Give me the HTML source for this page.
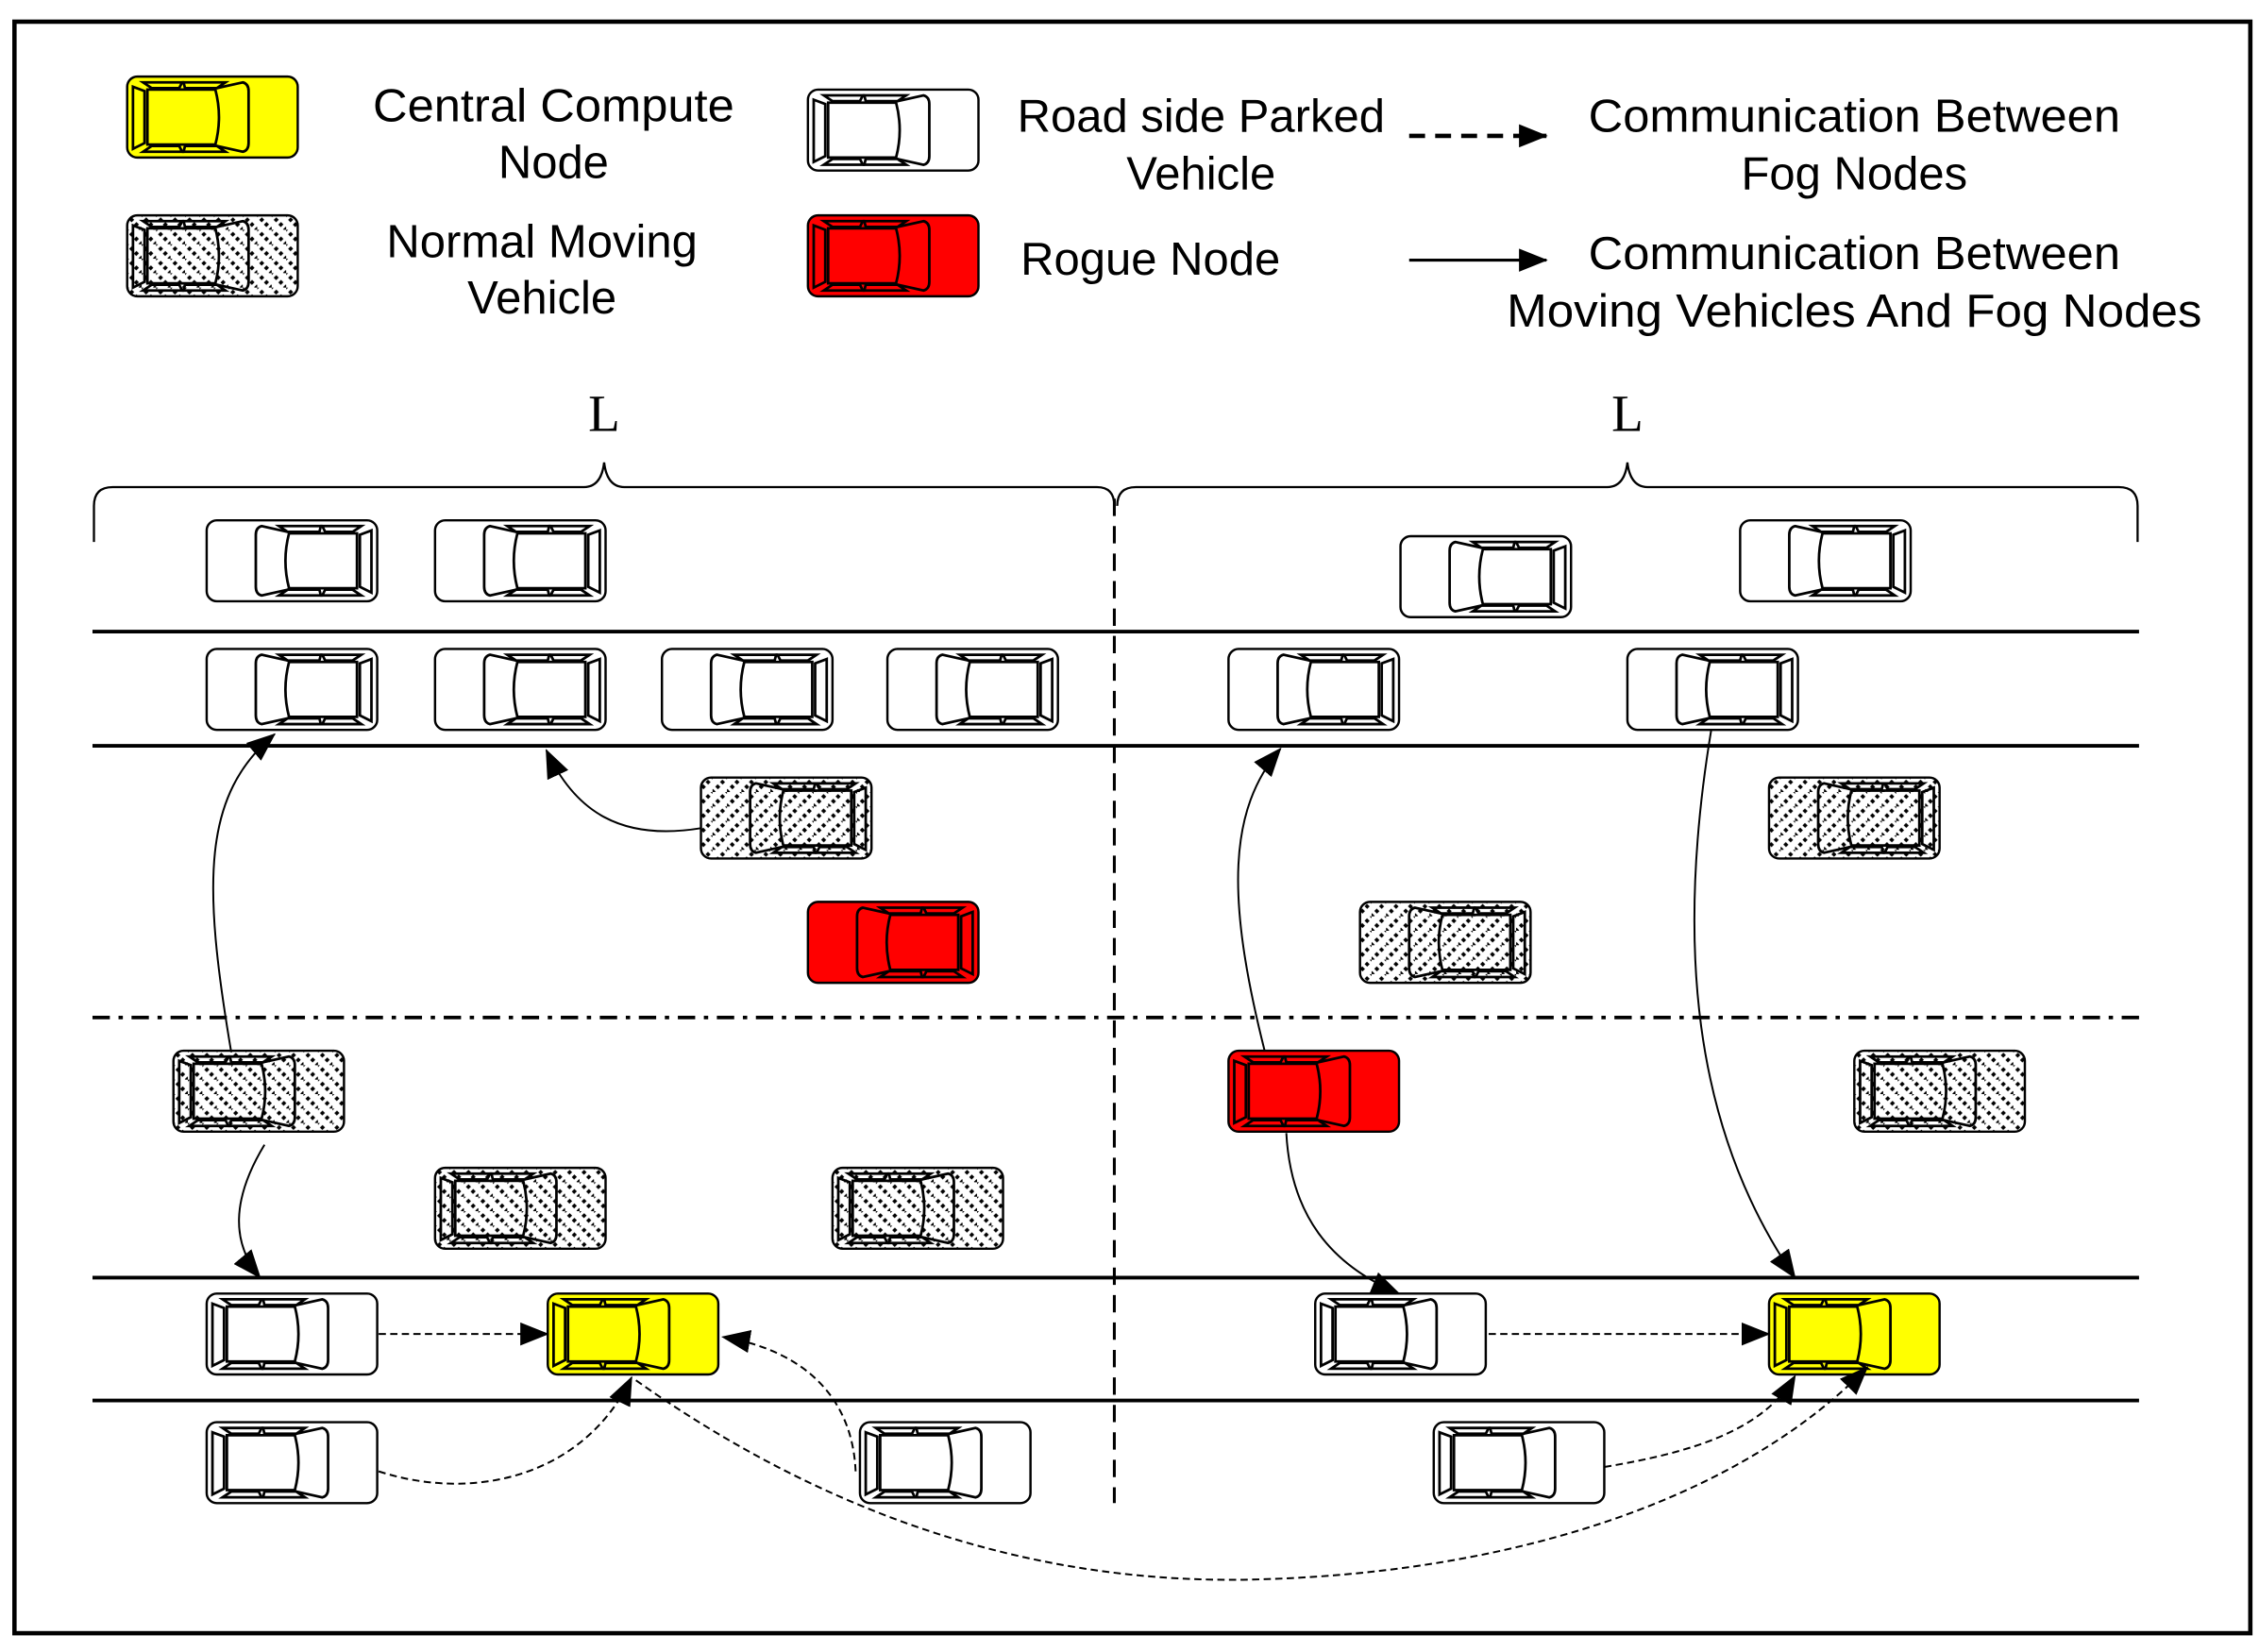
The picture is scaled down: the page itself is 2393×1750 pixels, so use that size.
<!DOCTYPE html>
<html><head><meta charset="utf-8"><style>html,body{margin:0;padding:0;background:#fff}svg{display:block}</style></head>
<body>
<svg width="2393" height="1750" viewBox="0 0 1563 1143" preserveAspectRatio="none" xmlns="http://www.w3.org/2000/svg">
<defs>
<pattern id="h" patternUnits="userSpaceOnUse" width="10" height="10">
<rect width="10" height="10" fill="#fff"/>
<line x1="-1" y1="-1" x2="11" y2="11" stroke="#000" stroke-width="2.6" stroke-dasharray="2.4 2.2"/>
</pattern>
<marker id="A" markerWidth="20" markerHeight="16" refX="19" refY="8" orient="auto" markerUnits="userSpaceOnUse" viewBox="0 0 20 16"><path d="M0,0 L20,8 L0,16z" fill="#000"/></marker>
<g id="cd" fill="none" stroke="#000" stroke-width="1.8">
<path d="M4,7 L12,10 L12,46 L4,50z"/>
<path d="M14,9 L61,9 Q66,28 61,47 L14,47z"/>
<path d="M62,8 L80,4 Q84,5 84,10 L84,46 Q84,51 80,52 L62,48"/>
<path d="M11,4 L38,4 L36,8 L17,8z"/>
<path d="M39,4 L68,4 L62,8 L40,8z"/>
<path d="M11,52 L38,52 L36,48 L17,48z"/>
<path d="M39,52 L68,52 L62,48 L40,48z"/>
</g>
<g id="cw"><rect x="0" y="0" width="118" height="56" rx="7" fill="#fff" stroke="#000" stroke-width="1.6"/><use href="#cd"/></g>
<g id="cy"><rect x="0" y="0" width="118" height="56" rx="7" fill="#ff0" stroke="#000" stroke-width="1.6"/><use href="#cd"/></g>
<g id="cr"><rect x="0" y="0" width="118" height="56" rx="7" fill="#f00" stroke="#000" stroke-width="1.6"/><use href="#cd"/></g>
<g id="ch"><rect x="0" y="0" width="118" height="56" rx="7" fill="url(#h)" stroke="#000" stroke-width="1.6"/><use href="#cd"/></g>
</defs>
<rect width="1563" height="1143" fill="#fff"/>
<rect x="10" y="15" width="1547" height="1115" fill="none" stroke="#000" stroke-width="3"/>

<use href="#cy" x="88" y="53"/>
<use href="#ch" x="88" y="149"/>
<use href="#cw" x="559" y="62"/>
<use href="#cr" x="559" y="149"/>
<g font-family="Liberation Sans, sans-serif" font-size="32" text-anchor="middle" fill="#000">
<text x="383" y="84" textLength="250" lengthAdjust="spacingAndGlyphs">Central Compute</text>
<text x="383" y="123">Node</text>
<text x="375" y="178">Normal Moving</text>
<text x="375" y="217">Vehicle</text>
<text x="831" y="91">Road side Parked</text>
<text x="831" y="131">Vehicle</text>
<text x="796" y="190">Rogue Node</text>
<text x="1283" y="91" textLength="368" lengthAdjust="spacingAndGlyphs">Communication Between</text>
<text x="1283" y="131">Fog Nodes</text>
<text x="1283" y="186" textLength="368" lengthAdjust="spacingAndGlyphs">Communication Between</text>
<text x="1283" y="226" textLength="481" lengthAdjust="spacingAndGlyphs">Moving Vehicles And Fog Nodes</text>
</g>
<line x1="975" y1="94" x2="1070" y2="94" stroke="#000" stroke-width="3" stroke-dasharray="11 7" marker-end="url(#A)"/>
<line x1="975" y1="180" x2="1070" y2="180" stroke="#000" stroke-width="2" marker-end="url(#A)"/>

<g font-family="Liberation Serif, serif" font-size="36" text-anchor="middle">
<text x="418" y="298">L</text><text x="1126" y="298">L</text>
</g>
<g fill="none" stroke="#000" stroke-width="1.5">
<path d="M65,375 L65,350 Q65,337 78,337 L404,337 Q416,337 418,320 Q420,337 432,337 L759,337 Q771,337 771,350"/>
<path d="M773,350 Q773,337 786,337 L1112,337 Q1124,337 1126,320 Q1128,337 1140,337 L1466,337 Q1479,337 1479,350 L1479,375"/>
</g>

<g stroke="#000" stroke-width="2.5">
<line x1="64" y1="437" x2="1480" y2="437"/>
<line x1="64" y1="516" x2="1480" y2="516"/>
<line x1="64" y1="884" x2="1480" y2="884"/>
<line x1="64" y1="969" x2="1480" y2="969"/>
</g>
<line x1="64" y1="704" x2="1480" y2="704" stroke="#000" stroke-width="2.5" stroke-dasharray="12 6 3 6"/>
<line x1="771" y1="345" x2="771" y2="1040" stroke="#000" stroke-width="2" stroke-dasharray="12 7"/>

<g>
<use href="#cw" transform="translate(261,360) scale(-1,1)"/>
<use href="#cw" transform="translate(419,360) scale(-1,1)"/>
<use href="#cw" transform="translate(1087,371) scale(-1,1)"/>
<use href="#cw" transform="translate(1322,360) scale(-1,1)"/>
<use href="#cw" transform="translate(261,449) scale(-1,1)"/>
<use href="#cw" transform="translate(419,449) scale(-1,1)"/>
<use href="#cw" transform="translate(576,449) scale(-1,1)"/>
<use href="#cw" transform="translate(732,449) scale(-1,1)"/>
<use href="#cw" transform="translate(968,449) scale(-1,1)"/>
<use href="#cw" transform="translate(1244,449) scale(-1,1)"/>
<use href="#ch" transform="translate(603,538) scale(-1,1)"/>
<use href="#ch" transform="translate(1342,538) scale(-1,1)"/>
<use href="#ch" transform="translate(1059,624) scale(-1,1)"/>
<use href="#cr" transform="translate(677,624) scale(-1,1)"/>
</g>
<use href="#ch" x="120" y="727"/>
<use href="#cr" x="850" y="727"/>
<use href="#ch" x="1283" y="727"/>
<use href="#ch" x="301" y="808"/>
<use href="#ch" x="576" y="808"/>
<use href="#cw" x="143" y="895"/>
<use href="#cy" x="379" y="895"/>
<use href="#cw" x="910" y="895"/>
<use href="#cy" x="1224" y="895"/>
<use href="#cw" x="143" y="984"/>
<use href="#cw" x="595" y="984"/>
<use href="#cw" x="992" y="984"/>

<g fill="none" stroke="#000" stroke-width="1.3">
<path d="M160,728 C140,610 140,550 190,508" marker-end="url(#A)"/>
<path d="M485,573 C430,582 398,562 378,519" marker-end="url(#A)"/>
<path d="M183,792 C160,830 160,860 180,884" marker-end="url(#A)"/>
<path d="M875,727 C848,620 850,560 886,518" marker-end="url(#A)"/>
<path d="M1184,505 C1160,650 1170,780 1242,884" marker-end="url(#A)"/>
<path d="M890,784 C893,840 920,875 968,895" marker-end="url(#A)"/>
</g>
<g fill="none" stroke="#000" stroke-width="1.3" stroke-dasharray="5 3">
<path d="M262,923 L379,923" marker-end="url(#A)"/>
<path d="M1030,923 L1224,923" marker-end="url(#A)"/>
<path d="M262,1018 C330,1040 405,1020 437,953" marker-end="url(#A)"/>
<path d="M592,1018 C590,970 560,935 500,925" marker-end="url(#A)"/>
<path d="M440,955 C560,1040 700,1095 860,1093 C1040,1090 1200,1040 1292,946" marker-end="url(#A)"/>
<path d="M1110,1015 C1170,1005 1220,990 1242,952" marker-end="url(#A)"/>
</g>
</svg>
</body></html>
